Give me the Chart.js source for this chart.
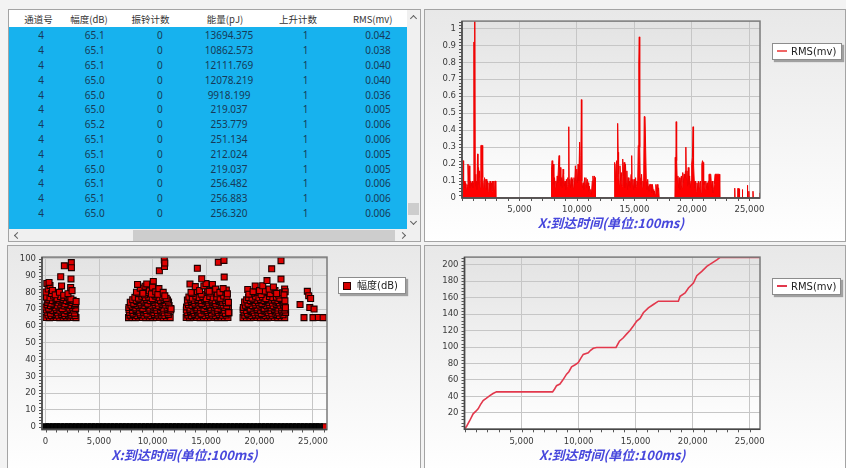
<!DOCTYPE html>
<html>
<head>
<meta charset="utf-8">
<script src="https://cdn.jsdelivr.net/npm/chart.js@4.4.1/dist/chart.umd.min.js"></script>
<style>
html,body{margin:0;padding:0;}
body{width:846px;height:468px;position:relative;overflow:hidden;background:#f3f3f3;}
.panel{position:absolute;box-sizing:border-box;border:1px solid #a4a4a4;overflow:hidden;}
.chartPanel{background:linear-gradient(#e8e8e8,#ffffff);}
.chartPanel canvas{position:absolute;left:0;top:0;}
#tablePanel{left:8px;top:9px;width:413px;height:233px;background:#f0f0f0;}
#tr{left:424px;top:9px;width:422px;height:233px;}
#bl{left:7px;top:245px;width:414px;height:230px;}
#br{left:424px;top:245px;width:422px;height:230px;}
.hdr{position:absolute;left:0;top:0;width:398px;height:17px;background:#fff;}
.rows{position:absolute;left:0;top:17px;width:398px;height:202px;background:#17b2ee;}
.cell{position:absolute;width:90px;text-align:center;height:14px;line-height:14px;white-space:nowrap;}
.hcell{font:9.5px "Noto Sans CJK SC","Noto Sans",sans-serif;color:#333;}
.vcell{font:10px "Noto Sans",sans-serif;color:#163a58;}
.vbar{position:absolute;left:398px;top:0;width:13px;height:219px;background:#f0f0f0;}
.hbar{position:absolute;left:0;top:219px;width:411px;height:13px;background:#f0f0f0;}
.thumb{position:absolute;background:#cdcdcd;}
.chev{position:absolute;width:4px;height:4px;border-left:1.2px solid #606060;border-top:1.2px solid #606060;}
.legend{position:absolute;box-sizing:border-box;background:#fff;border:1px solid #8c8c8c;box-shadow:2px 2px 1px #a0a0a0;font:10px "DejaVu Sans","Noto Sans CJK SC",sans-serif;color:#222;white-space:nowrap;}
.legend span{position:absolute;top:1px;line-height:13px;}
.legend i{position:absolute;display:block;}
</style>
</head>
<body>
<div class="panel" id="tablePanel">
  <div class="hdr" id="hdr"></div>
  <div class="rows" id="rows"></div>
  <div class="vbar">
    <div class="chev" style="left:4px;top:6px;transform:rotate(45deg);"></div>
    <div class="thumb" style="left:1px;top:193px;width:11px;height:12px;"></div>
    <div class="chev" style="left:4px;top:209px;transform:rotate(225deg);"></div>
  </div>
  <div class="hbar">
    <div class="chev" style="left:6px;top:4px;transform:rotate(-45deg);"></div>
    <div class="thumb" style="left:124px;top:1px;width:262px;height:11px;"></div>
    <div class="chev" style="left:391px;top:4px;transform:rotate(135deg);"></div>
  </div>
</div>
<div class="panel chartPanel" id="tr"><canvas id="rmsChart" width="420" height="231"></canvas></div>
<div class="panel chartPanel" id="bl"><canvas id="ampChart" width="412" height="222"></canvas></div>
<div class="panel chartPanel" id="br"><canvas id="cumChart" width="420" height="222"></canvas></div>

<div class="legend" style="left:772px;top:43px;width:70px;height:17px;">
  <i style="left:4px;top:6px;width:10px;height:2px;background:#f06666;"></i><span style="left:18px;">RMS(mv)</span>
</div>
<div class="legend" style="left:338px;top:277px;width:68px;height:17px;">
  <i style="left:4px;top:4px;width:6px;height:6px;background:#d80000;border:1px solid #300000;"></i><span style="left:18px;">幅度(dB)</span>
</div>
<div class="legend" style="left:772px;top:278px;width:69px;height:17px;">
  <i style="left:4px;top:6px;width:10px;height:2px;background:#e2384c;"></i><span style="left:18px;">RMS(mv)</span>
</div>

<script>
// ---------- hit table ----------
const tableColumns = ['通道号', '幅度(dB)', '振铃计数', '能量(pJ)', '上升计数', 'RMS(mv)'];
const channelNo  = [4, 4, 4, 4, 4, 4, 4, 4, 4, 4, 4, 4, 4];
const amplitudeDb = ['65.1', '65.1', '65.1', '65.0', '65.0', '65.0', '65.2', '65.1', '65.1', '65.0', '65.1', '65.1', '65.0'];
const ringCount  = [0, 0, 0, 0, 0, 0, 0, 0, 0, 0, 0, 0, 0];
const energyPj   = ['13694.375', '10862.573', '12111.769', '12078.219', '9918.199', '219.037', '253.779', '251.134', '212.024', '219.037', '256.482', '256.883', '256.320'];
const riseCount  = [1, 1, 1, 1, 1, 1, 1, 1, 1, 1, 1, 1, 1];
const rmsMv      = ['0.042', '0.038', '0.040', '0.040', '0.036', '0.005', '0.006', '0.006', '0.005', '0.005', '0.006', '0.006', '0.006'];

// ---------- RMS per hit vs arrival time (x: 100 ms units) ----------
const rmsBurst1 = [[0,0],[30,0],[40,0.09],[90,0.22],[140,0.08],[200,0.10],[260,0.06],[320,0.09],[380,0.05],[430,0.08],[470,0.07],[520,0.20],[570,0.12],[620,0.19],[680,0.06],[730,0.10],[790,0.09],[850,0.07],[900,0.10],[950,0.06],[1000,0.09],[1040,0.92],[1075,0.10],[1110,1.10],[1150,0.14],[1200,0.07],[1260,0.10],[1300,0.05],[1350,0.26],[1390,0.08],[1440,0.18],[1490,0.12],[1530,0.16],[1580,0.06],[1640,0.31],[1700,0.31],[1760,0.31],[1800,0.12],[1850,0.06],[1900,0.09],[1960,0.12],[2010,0.06],[2060,0.11],[2110,0.11],[2160,0.05],[2220,0.10],[2280,0.04],[2340,0.09],[2400,0.07],[2450,0.10],[2500,0.05],[2560,0.09],[2610,0.04],[2660,0.10],[2710,0.06],[2760,0.10],[2810,0.05],[2860,0.10],[2910,0.10],[2940,0]];
const rmsBurst2 = [[7760,0],[7790,0.17],[7840,0.22],[7890,0.13],[7940,0.20],[7990,0.08],[8050,0.12],[8100,0.06],[8160,0.10],[8220,0.07],[8280,0.13],[8330,0.09],[8400,0.20],[8446,0.25],[8490,0.10],[8550,0.18],[8600,0.07],[8660,0.12],[8720,0.06],[8790,0.17],[8840,0.14],[8900,0.07],[8960,0.10],[9020,0.05],[9080,0.11],[9140,0.07],[9200,0.12],[9250,0.08],[9287,0.42],[9320,0.09],[9380,0.11],[9440,0.06],[9500,0.12],[9560,0.07],[9620,0.11],[9680,0.06],[9740,0.12],[9800,0.08],[9860,0.19],[9920,0.10],[9980,0.17],[10040,0.09],[10100,0.20],[10160,0.10],[10230,0.33],[10290,0.14],[10340,0.25],[10384,0.58],[10420,0.10],[10480,0.06],[10540,0.09],[10600,0.05],[10660,0.12],[10720,0.08],[10780,0.12],[10840,0.06],[10900,0.11],[10960,0.09],[11020,0.04],[11080,0.07],[11140,0.03],[11200,0.05],[11260,0.02],[11330,0.10],[11390,0.13],[11450,0.07],[11510,0.13],[11570,0.12],[11610,0]];
const rmsBurst3 = [[13230,0],[13260,0.12],[13300,0.21],[13340,0.10],[13400,0.20],[13450,0.22],[13500,0.12],[13540,0.44],[13580,0.27],[13620,0.14],[13680,0.08],[13740,0.19],[13800,0.10],[13860,0.15],[13920,0.07],[13980,0.23],[14040,0.13],[14100,0.21],[14160,0.06],[14220,0.20],[14280,0.09],[14340,0.16],[14400,0.05],[14460,0.12],[14520,0.07],[14580,0.10],[14640,0.06],[14700,0.14],[14760,0.25],[14800,0.08],[14860,0.11],[14920,0.05],[14980,0.11],[15040,0.06],[15100,0.12],[15160,0.07],[15220,0.10],[15280,0.08],[15330,0.31],[15380,0.79],[15420,0.95],[15460,0.30],[15500,0.12],[15560,0.08],[15620,0.14],[15680,0.06],[15740,0.10],[15800,0.07],[15850,0.48],[15920,0.48],[15990,0.48],[16030,0.10],[16090,0.05],[16150,0.11],[16200,0.07],[16260,0.04],[16320,0.08],[16380,0.08],[16440,0.08],[16500,0.03],[16560,0.08],[16620,0.05],[16680,0.02],[16740,0.04],[16800,0.02],[16860,0.08],[16920,0.05],[16980,0.08],[17040,0.04],[17100,0.06],[17150,0]];
const rmsBurst4 = [[18520,0],[18550,0.24],[18590,0.10],[18630,0.45],[18670,0.22],[18720,0.10],[18780,0.13],[18840,0.06],[18900,0.12],[18960,0.05],[19020,0.10],[19080,0.13],[19140,0.06],[19200,0.15],[19260,0.09],[19320,0.14],[19380,0.12],[19440,0.16],[19470,0.30],[19510,0.12],[19570,0.16],[19620,0.07],[19680,0.18],[19740,0.08],[19800,0.13],[19860,0.06],[19920,0.10],[19980,0.20],[20040,0.24],[20100,0.42],[20140,0.20],[20200,0.10],[20260,0.06],[20320,0.10],[20380,0.04],[20440,0.09],[20500,0.05],[20560,0.10],[20620,0.06],[20680,0.09],[20740,0.10],[20800,0.03],[20860,0.20],[20920,0.22],[20970,0.21],[21020,0.08],[21080,0.10],[21140,0.05],[21200,0.10],[21260,0.06],[21320,0.09],[21380,0.05],[21440,0.10],[21480,0.14],[21560,0.14],[21640,0.14],[21700,0.06],[21760,0.10],[21820,0.03],[21880,0.05],[21950,0.08],[22010,0.14],[22100,0.14],[22200,0.14],[22300,0.14],[22380,0.14],[22420,0]];
const rmsBurst5 = [[23700,0],[23725,0.058],[23750,0],[23990,0],[24010,0.057],[24030,0],[24110,0],[24130,0.055],[24150,0],[24370,0],[24390,0.05],[24410,0],[24800,0],[24825,0.075],[24850,0],[24930,0],[24950,0.04],[24970,0],[25290,0],[25310,0.04],[25330,0],[25860,0],[25880,0.03],[25900,0],[25920,0]];

// ---------- amplitude (dB) per hit vs arrival time ----------
const ampBurst1 = [[60,65.1],[380,65.0],[700,65.2],[1010,65.1],[1330,65.0],[1650,65.1],[1980,65.0],[2290,65.2],[2600,65.1],[2850,65.0],
  [230,66.6],[540,66.3],[870,66.9],[1190,66.4],[1510,66.8],[1830,66.2],[2140,66.7],[2450,66.5],[2760,66.3],
  [150,68.2],[470,67.6],[820,68.9],[1120,67.9],[1460,68.4],[1770,67.5],[2080,68.8],[2400,68.0],[2720,67.7],
  [70,69.6],[380,69.9],[700,69.3],[1030,69.8],[1340,69.4],[1660,69.7],[1990,69.2],[2300,69.9],[2620,69.5],
  [0,71.3],[300,70.6],[610,71.8],[940,70.9],[1250,71.5],[1560,70.4],[1900,71.9],[2210,70.7],[2530,71.2],[2820,70.5],
  [140,72.6],[460,72.2],[780,72.9],[1100,72.4],[1420,72.7],[1740,72.1],[2060,72.8],[2380,72.3],[2700,72.6],
  [200,74.1],[520,73.6],[860,74.8],[1180,73.9],[1500,74.5],[1820,73.3],[2150,74.6],[2460,74.0],[2780,73.5],
  [300,75.6],[640,75.2],[980,75.9],[1300,75.4],[1620,75.7],[1940,75.1],[2260,75.8],[2580,75.3],
  [90,77.2],[420,76.8],[760,77.9],[1080,76.5],[1400,77.6],[1720,76.9],[2050,77.4],[2370,76.2],
  [40,80.3],[250,82.1],[120,85.4],[420,84.2],[560,79.4],[330,86.0],[650,81.2],[900,78.6],[1300,80.1],[1500,83.9],[1700,78.4],[2100,79.3],[2350,83.0],[2480,81.1],
  [1420,89.4],[1760,95.9],[2410,97.8],[2420,94.8],[2380,88.1],[2860,74.6]];
const ampBurst2 = [[7760,65.0],[8080,65.1],[8400,65.0],[8720,65.2],[9050,65.1],[9370,65.0],[9700,65.1],[10020,65.0],[10350,65.1],[10670,65.2],[11000,65.0],[11320,65.1],[11650,65.0],
  [7900,66.5],[8230,66.8],[8560,66.3],[8880,66.9],[9210,66.4],[9530,66.7],[9860,66.2],[10180,66.8],[10510,66.5],[10830,66.6],[11160,66.3],[11480,66.9],
  [7850,68.1],[8180,67.7],[8500,68.6],[8830,67.9],[9150,68.3],[9480,67.6],[9800,68.8],[10130,68.0],[10460,67.8],[10780,68.5],[11100,67.9],[11430,68.2],
  [7800,69.7],[8130,69.3],[8460,69.9],[8780,69.4],[9110,69.8],[9430,69.2],[9760,69.6],[10080,69.9],[10410,69.3],[10740,69.7],[11060,69.5],[11390,69.8],[11690,69.4],
  [7790,71.0],[8110,71.6],[8440,70.8],[8760,71.3],[9090,70.5],[9410,71.9],[9740,70.7],[10070,71.4],[10390,70.9],[10720,71.7],[11040,70.6],[11370,71.2],[11700,70.4],
  [7980,72.5],[8300,72.9],[8630,72.3],[8950,72.7],[9280,72.2],[9600,72.8],[9930,72.4],[10250,72.6],[10580,72.1],[10900,72.9],[11230,72.5],[11550,72.3],
  [7920,74.2],[8250,73.5],[8570,74.7],[8900,73.8],[9220,74.4],[9550,73.6],[9870,74.9],[10200,74.1],[10520,73.7],[10850,74.5],[11170,73.9],[11500,74.3],
  [8150,75.7],[8480,75.3],[8800,75.9],[9130,75.4],[9450,75.8],[9780,75.2],[10100,75.6],[10430,75.9],[10750,75.3],[11080,75.7],[11400,75.5],
  [8350,77.1],[8680,76.6],[9000,77.7],[9330,76.9],[9650,77.3],[9980,76.4],[10300,77.8],[10630,76.8],[10950,77.2],[11280,76.5],
  [8700,79.3],[9000,80.8],[9250,78.6],[9600,79.9],[9850,82.1],[10200,78.7],[10400,81.6],[10800,79.4],
  [8500,80.2],[8850,82.6],[8600,84.8],[9100,79.5],[9300,83.7],[9460,85.1],[9700,81.0],[9900,79.1],[10075,86.6],[10000,83.2],[10300,80.4],[10500,78.9],[10600,82.3],[11000,80.1],[11150,78.0],
  [10640,92.9],[11100,99.4],[11120,95.5],[11150,97.6],[11730,70.2]];
const ampBurst3 = [[13150,65.1],[13470,65.0],[13800,65.2],[14120,65.1],[14450,65.0],[14770,65.1],[15100,65.0],[15420,65.1],[15750,65.2],[16070,65.0],[16400,65.1],[16720,65.0],[17050,65.1],
  [13300,66.6],[13630,66.2],[13950,66.8],[14280,66.4],[14600,66.9],[14930,66.3],[15250,66.7],[15580,66.5],[15900,66.2],[16230,66.8],[16550,66.4],[16880,66.6],
  [13240,68.0],[13560,68.7],[13890,67.8],[14210,68.4],[14540,67.6],[14860,68.9],[15190,68.1],[15510,67.7],[15840,68.5],[16160,67.9],[16490,68.3],[16810,67.5],[17140,68.0],
  [13160,69.5],[13490,69.8],[13810,69.3],[14140,69.9],[14460,69.4],[14790,69.7],[15110,69.2],[15440,69.8],[15760,69.5],[16090,69.3],[16410,69.9],[16740,69.4],[17080,69.6],
  [13180,71.4],[13510,70.7],[13830,71.8],[14160,70.9],[14480,71.2],[14810,70.5],[15130,71.6],[15460,70.8],[15780,71.3],[16110,70.6],[16430,71.9],[16760,71.0],[17100,70.4],
  [13360,72.7],[13690,72.3],[14010,72.9],[14340,72.4],[14660,72.8],[14990,72.2],[15310,72.6],[15640,72.9],[15960,72.3],[16290,72.7],[16610,72.5],[16940,72.1],
  [13300,74.0],[13630,74.6],[13950,73.7],[14280,74.3],[14600,73.5],[14930,74.8],[15250,73.9],[15580,74.4],[15900,73.6],[16230,74.7],[16550,74.1],[16880,73.8],
  [13260,75.5],[13580,75.9],[13910,75.3],[14230,75.7],[14560,75.2],[14880,75.8],[15210,75.4],[15530,75.6],[15860,75.1],[16180,75.9],[16510,75.5],[16830,75.3],
  [13400,77.3],[13720,76.7],[14050,77.8],[14370,76.9],[14700,77.5],[15020,76.4],[15350,77.6],[15670,76.8],[16000,77.2],[16320,76.5],[16650,77.9],[16970,76.6],
  [13700,79.4],[14200,80.6],[14550,79.0],[15150,81.4],[15450,79.7],[15750,80.9],[16050,79.2],[16450,80.3],[16900,81.5],
  [13500,85.0],[13600,80.1],[14000,83.5],[14400,81.2],[14800,83.9],[15000,85.3],[15300,80.7],[15600,84.8],[15900,82.0],[16300,80.1],[16600,82.3],[17000,79.2],
  [14190,94.4],[14600,88.2],[16150,98.0],[16680,99.1],[16700,89.2],[17100,74.1],[17120,68.0]];
const ampBurst4 = [[18460,65.0],[18780,65.1],[19110,65.0],[19430,65.2],[19760,65.1],[20080,65.0],[20410,65.1],[20730,65.0],[21060,65.2],[21380,65.1],[21710,65.0],[22030,65.1],[22360,65.0],
  [18620,66.4],[18950,66.8],[19270,66.3],[19600,66.7],[19920,66.5],[20250,66.9],[20570,66.2],[20900,66.6],[21220,66.4],[21550,66.8],[21870,66.3],[22200,66.7],
  [18550,68.3],[18870,67.7],[19200,68.6],[19520,67.9],[19850,68.2],[20170,67.5],[20500,68.8],[20820,68.0],[21150,67.6],[21470,68.4],[21800,67.8],[22120,68.5],[22440,68.1],
  [18470,69.6],[18800,69.2],[19120,69.8],[19450,69.4],[19770,69.9],[20100,69.3],[20420,69.7],[20750,69.5],[21070,69.2],[21400,69.8],[21720,69.4],[22050,69.7],[22370,69.5],
  [18490,71.1],[18820,71.7],[19140,70.6],[19470,71.4],[19790,70.9],[20120,71.8],[20440,70.5],[20770,71.3],[21090,70.8],[21420,71.6],[21740,70.7],[22070,71.2],[22400,70.9],
  [18680,72.4],[19000,72.8],[19330,72.2],[19650,72.7],[19980,72.5],[20300,72.9],[20630,72.3],[20950,72.6],[21280,72.1],[21600,72.8],[21930,72.4],[22250,72.7],
  [18610,74.3],[18930,73.6],[19260,74.8],[19580,73.9],[19910,74.2],[20230,73.5],[20560,74.6],[20880,74.0],[21210,73.7],[21530,74.5],[21860,73.8],[22180,74.4],
  [18800,75.6],[19130,75.2],[19450,75.8],[19780,75.3],[20100,75.7],[20430,75.1],[20750,75.9],[21080,75.4],[21400,75.6],[21730,75.2],[22050,75.8],
  [18980,77.0],[19300,76.6],[19630,77.7],[19950,76.8],[20280,77.4],[20600,76.3],[20930,77.6],[21250,76.9],[21580,77.3],[21900,76.5],
  [19250,79.6],[19800,80.2],[20150,78.8],[20500,80.9],[21000,79.3],[21450,81.2],[21800,78.5],[22150,79.8],
  [18900,81.8],[19000,79.0],[19400,80.5],[19600,83.9],[20000,81.1],[20300,84.0],[20700,87.1],[20900,82.0],[21300,83.3],[21600,79.4],[22350,82.1],[22400,80.5],[22300,78.6],
  [21140,94.1],[22010,99.0],[22010,88.0],[22380,75.0],[22420,70.9]];
const ampBurst5 = [[23790,72.8],[24160,65.0],[24470,80.7],[24600,78.1],[24780,76.4],[24700,71.0],[25000,65.0],[25100,70.1],[25500,65.1],[25950,65.0]];
const zeroHitTimes = [0,340,720,1050,1400,1790,2130,2480,2860,3210,3570,3940,4300,4650,5020,5380,5730,6100,6450,6820,7180,7530,7900,8260,8610,8980,9340,9700,10060,10420,10790,11150,11500,11870,12230,12590,12950,13320,13680,14040,14400,14770,15130,15490,15850,16220,16580,16940,17300,17670,18030,18390,18750,19120,19480,19840,20200,20570,20930,21290,21650,22020,22380,22740,23100,23470,23830,24190,24550,24920,25280,25600];
const lastZeroHit = [[26050, 0]];

// ---------- cumulative RMS vs arrival time ----------
const cumulativeRms = [[0,0],[200,4],[465,10.7],[757,18.8],[1000,22],[1195,24.9],[1400,30],[1635,34.9],[1900,37.5],[2222,40.9],[2500,43.5],[2807,45.5],[7719,45.5],[7900,49],[8070,53],[8363,55],[8600,59.5],[8947,67],[9150,70],[9386,76],[9700,78.5],[9968,81],[10200,86.5],[10409,91],[10848,93],[11050,96],[11287,98.5],[11580,99.5],[13281,99.5],[13573,107],[13900,111],[14219,116],[14500,120],[14797,125.5],[15096,131.5],[15386,134.8],[15675,141.6],[16113,147.6],[16552,151.7],[16991,155.7],[18746,155.7],[18898,161.7],[19336,165.7],[19626,171.7],[20065,177.8],[20360,186.7],[20798,191.9],[21237,198],[21675,202],[22114,206],[22404,209],[25900,209]];

// ---------- axis ticks ----------
const timeTicks = [5000, 10000, 15000, 20000, 25000];
const ampTimeTicks = [0, 5000, 10000, 15000, 20000, 25000];
const rmsTicks = [0, 0.1, 0.2, 0.3, 0.4, 0.5, 0.6, 0.7, 0.8, 0.9, 1];
const ampTicks = [0, 10, 20, 30, 40, 50, 60, 70, 80, 90, 100];
const cumulativeTicks = [20, 40, 60, 80, 100, 120, 140, 160, 180, 200];
const xTitle = 'X:到达时间(单位:100ms)';

// ---------- table ----------
const headerCenters = [37.5, 88, 149.5, 224, 297, 371.7];
const cellCenters = [40, 93.7, 158.8, 228, 304.7, 377];
const hdr = document.getElementById('hdr');
tableColumns.forEach((t, c) => {
  const d = document.createElement('div');
  d.className = 'cell hcell';
  d.style.left = (headerCenters[c] - 8 - 45) + 'px';
  d.style.top = '2px';
  d.textContent = t;
  hdr.appendChild(d);
});
const rowsEl = document.getElementById('rows');
const columns = [channelNo, amplitudeDb, ringCount, energyPj, riseCount, rmsMv];
for (let r = 0; r < channelNo.length; r++) {
  columns.forEach((col, c) => {
    const d = document.createElement('div');
    d.className = 'cell vcell';
    d.style.left = (cellCenters[c] - 8 - 45) + 'px';
    d.style.top = (34.3 + r * 14.8 - 26 - 7) + 'px';
    d.textContent = String(col[r]);
    rowsEl.appendChild(d);
  });
}

// ---------- chart helpers ----------
const toXY = arr => arr.map(([x, y]) => ({x, y}));
const tickFont = {family: 'DejaVu Sans', size: 8.5};
const titleFont = {family: "'Noto Sans CJK SC'", size: 13, style: 'italic', weight: 'bold'};

const plotFrame = {
  id: 'plotFrame',
  beforeDraw(chart) {
    const {ctx, chartArea: a} = chart;
    const g = ctx.createLinearGradient(0, a.top, 0, a.bottom);
    g.addColorStop(0, '#e3e3e3');
    g.addColorStop(1, '#ffffff');
    ctx.save();
    ctx.fillStyle = g;
    ctx.fillRect(a.left, a.top, a.width, a.height);
    ctx.restore();
  },
  afterDraw(chart, args, opts) {
    const {ctx, chartArea: a, scales} = chart;
    ctx.save();
    // minor tick marks along the left and bottom axes
    ctx.strokeStyle = '#555';
    ctx.lineWidth = 1;
    ctx.beginPath();
    const ys = scales.y;
    for (let v = opts.yMinorFrom; v <= ys.max + 1e-9; v += opts.yMinor) {
      const p = Math.round(ys.getPixelForValue(v)) + 0.5;
      if (p < a.top || p > a.bottom) continue;
      ctx.moveTo(a.left - 3, p); ctx.lineTo(a.left, p);
    }
    const xs = scales.x;
    for (let v = 0; v <= xs.max; v += opts.xMinor) {
      const p = Math.round(xs.getPixelForValue(v)) + 0.5;
      if (p < a.left || p > a.right) continue;
      ctx.moveTo(p, a.bottom); ctx.lineTo(p, a.bottom + 3);
    }
    ctx.stroke();
    // frame
    ctx.strokeStyle = '#7a7a7a';
    ctx.lineWidth = 1.5;
    ctx.strokeRect(a.left, a.top, a.width, a.height);
    ctx.strokeStyle = '#474747';
    ctx.beginPath();
    ctx.moveTo(a.left, a.top); ctx.lineTo(a.left, a.bottom); ctx.lineTo(a.right, a.bottom);
    ctx.stroke();
    ctx.restore();
  }
};

function buildOptions(box, x, y, minor) {
  return {
    responsive: false,
    animation: false,
    devicePixelRatio: 1,
    events: [],
    layout: {padding: {left: 0, top: box.top, right: box.w - box.right, bottom: 0}},
    plugins: {legend: {display: false}, tooltip: {enabled: false}, plotFrame: minor},
    scales: {
      x: {
        type: 'linear', min: x.min, max: x.max,
        afterBuildTicks: s => { s.ticks = x.ticks.map(v => ({value: v})); },
        afterFit: s => { s.height = box.h - box.bottom; },
        grid: {color: '#c6c6c6', lineWidth: 1, drawTicks: false},
        border: {display: false},
        ticks: {font: tickFont, color: '#3a3a3a', padding: 7, maxRotation: 0,
          callback: v => v.toLocaleString('en-US')},
        title: {display: true, text: xTitle, color: '#4747dc', font: titleFont,
          padding: {top: 0, bottom: box.titleOffset - 7.8}}
      },
      y: {
        type: 'linear', min: y.min, max: y.max,
        afterBuildTicks: s => { s.ticks = y.ticks.map(v => ({value: v})); },
        afterFit: s => { s.width = box.left; },
        grid: {color: '#c6c6c6', lineWidth: 1, drawTicks: false},
        border: {display: false},
        ticks: {font: tickFont, color: '#3a3a3a', padding: 6, callback: y.fmt}
      }
    }
  };
}

// RMS per hit
new Chart(document.getElementById('rmsChart'), {
  type: 'line',
  data: {datasets: [{
    label: 'RMS(mv)',
    data: toXY([].concat(rmsBurst1, rmsBurst2, rmsBurst3, rmsBurst4, rmsBurst5)),
    borderColor: '#f00000', borderWidth: 1, backgroundColor: '#ff0000',
    fill: 'origin', pointRadius: 0, tension: 0
  }]},
  options: buildOptions({left: 37, top: 10, right: 335, bottom: 188, w: 420, h: 231, titleOffset: 17.7},
    {min: 0, max: 25920, ticks: timeTicks},
    {min: 0, max: 1.043, ticks: rmsTicks, fmt: v => String(Math.round(v * 10) / 10)},
    {yMinor: 0.02, yMinorFrom: 0, xMinor: 1000}),
  plugins: [plotFrame]
});

// amplitude scatter
const squareStyle = {pointStyle: 'rect', pointRadius: 4.2, borderWidth: 1.1};
new Chart(document.getElementById('ampChart'), {
  type: 'scatter',
  data: {datasets: [
    Object.assign({label: 'zero', data: zeroHitTimes.map(t => ({x: t, y: 0})),
      backgroundColor: '#050505', borderColor: '#000'}, squareStyle),
    Object.assign({label: '幅度(dB)', data: toXY([].concat(ampBurst1, ampBurst2, ampBurst3, ampBurst4, ampBurst5)),
      backgroundColor: '#dd0000', borderColor: '#1c0000'}, squareStyle),
    Object.assign({label: 'last', data: toXY(lastZeroHit),
      backgroundColor: '#dd0000', borderColor: '#2a0000'}, squareStyle)
  ]},
  options: buildOptions({left: 34, top: 9.5, right: 319, bottom: 183.5, w: 412, h: 222, titleOffset: 13},
    {min: -330, max: 26310, ticks: ampTimeTicks},
    {min: -1.7, max: 101.1, ticks: ampTicks, fmt: v => String(v)},
    {yMinor: 2, yMinorFrom: 0, xMinor: 1000}),
  plugins: [plotFrame]
});

// cumulative RMS
new Chart(document.getElementById('cumChart'), {
  type: 'line',
  data: {datasets: [{
    label: 'RMS(mv)',
    data: toXY(cumulativeRms),
    borderColor: '#e2384c', borderWidth: 1.6, fill: false, pointRadius: 0, tension: 0
  }]},
  options: buildOptions({left: 39.5, top: 9.7, right: 335, bottom: 183.3, w: 420, h: 222, titleOffset: 13},
    {min: 0, max: 25900, ticks: timeTicks},
    {min: 0, max: 209.3, ticks: cumulativeTicks, fmt: v => String(v)},
    {yMinor: 4, yMinorFrom: 0, xMinor: 1000}),
  plugins: [plotFrame]
});
</script>
</body>
</html>
